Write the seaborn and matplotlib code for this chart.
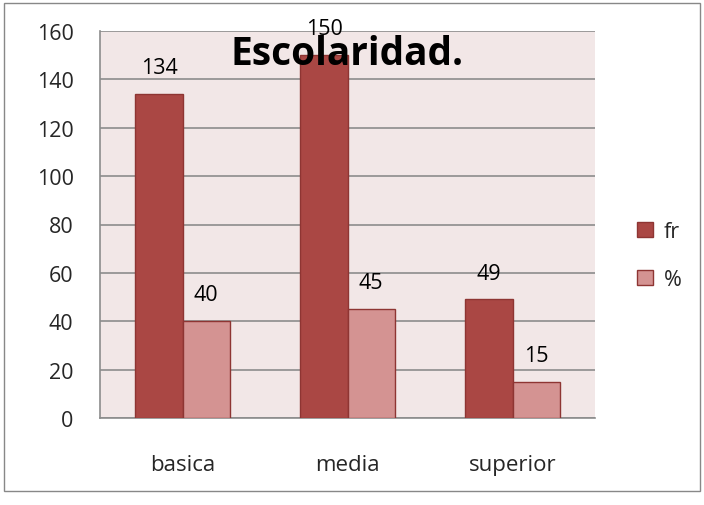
import pandas as pd
import matplotlib
matplotlib.use("Agg")
import matplotlib.pyplot as plt
import seaborn as sns
from matplotlib.patches import Rectangle

# --- data ---
categories = ["basica", "media", "superior"]
fr_values = [134, 150, 49]
pct_values = [40, 45, 15]
series_names = ["fr", "%"]
y_ticks = [0, 20, 40, 60, 80, 100, 120, 140, 160]

df = pd.DataFrame({
    "cat": categories * 2,
    "serie": [series_names[0]] * 3 + [series_names[1]] * 3,
    "valor": fr_values + pct_values,
})

sns.set_style("white")
plt.rcParams["font.family"] = ["Open Sans", "DejaVu Sans"]

fig = plt.figure(figsize=(7.04, 5.06), dpi=100)
ax = fig.add_axes([100 / 704, 1 - 419 / 506, 495 / 704, 387 / 506])
ax.set_facecolor("#F2E7E7")

palette = {"fr": "#AA4744", "%": "#D49392"}
sns.barplot(data=df, x="cat", y="valor", hue="serie", palette=palette,
            width=0.57, saturation=1, edgecolor="#8E3533", linewidth=1.0,
            ax=ax, legend=True, zorder=3)

# value labels
for cont in ax.containers:
    for bar in cont:
        h = bar.get_height()
        ax.annotate(f"{h:.0f}", (bar.get_x() + bar.get_width() / 2, h),
                    xytext=(0, 19), textcoords="offset points",
                    ha="center", va="center", fontsize=15.5, color="black", zorder=5)

ax.set_ylim(0, 160)
ax.set_xlim(-0.5, 2.5)
ax.set_yticks(y_ticks)
ax.yaxis.grid(True, color="#8C8C8C", linewidth=1.2, zorder=0)
ax.set_axisbelow(True)
ax.tick_params(axis="y", labelsize=15.5, length=7, color="#8C8C8C", width=1.2, pad=12)
ax.tick_params(axis="x", which="major", length=0, labelsize=16, pad=26)
ax.set_xticks([-0.5, 0.5, 1.5, 2.5], minor=True)
ax.tick_params(axis="x", which="minor", length=7, color="#8C8C8C", width=1.2)
ax.set_xlabel("")
ax.set_ylabel("")

for side in ["top", "right"]:
    ax.spines[side].set_visible(False)
for side in ["left", "bottom"]:
    ax.spines[side].set_color("#8C8C8C")
    ax.spines[side].set_linewidth(1.2)

ax.text(0.5, (419 - 65) / 387, "Escolaridad.", transform=ax.transAxes,
        ha="center", va="baseline", fontsize=28, fontweight="bold",
        color="black", zorder=6)

leg = ax.legend(loc="center left", bbox_to_anchor=(1.046, 0.42), frameon=False,
                fontsize=15.5, handlelength=0.75, handleheight=0.75, labelspacing=1.25,
                handletextpad=0.5)

fig.patches.append(Rectangle((4 / 704, 1 - 492 / 506), 696 / 704, 488 / 506,
                             transform=fig.transFigure, fill=False,
                             edgecolor="#888888", linewidth=1.0))

fig.savefig("out.png", dpi=100)
